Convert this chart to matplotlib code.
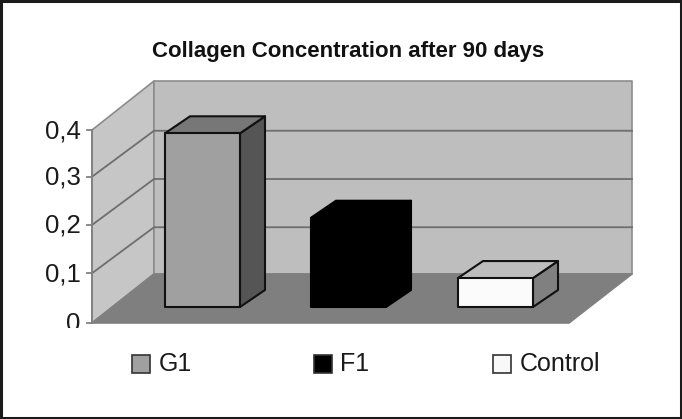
import matplotlib
matplotlib.use("Agg")
import matplotlib.pyplot as plt
from matplotlib.patches import Polygon, Rectangle

categories = ["G1", "F1", "Control"]
values = [0.36, 0.185, 0.06]
y_ticks = [0, 0.1, 0.2, 0.3, 0.4]
y_tick_labels = ["0", "0,1", "0,2", "0,3", "0,4"]
title = "Collagen Concentration after 90 days"

# colores de cada barra: frente, tapa, lado, borde
bar_colors = [
    ("#a0a0a0", "#777777", "#555555", "#111111"),
    ("#000000", "#000000", "#000000", "#000000"),
    ("#fbfbfb", "#bdbdbd", "#808080", "#111111"),
]
legend_colors = ["#a0a0a0", "#000000", "#f8f8f8"]

plt.rcParams["font.family"] = ["Liberation Sans", "DejaVu Sans"]

fig = plt.figure(figsize=(6.82, 4.19), dpi=100)
ax = fig.add_axes([0, 0, 1, 1])

# eje x en pixeles, eje y en unidades del dato (0 en y=323, 0.4 en y=130)
PX_PER_UNIT = 482.5
BASE_Y = 323


def vy(px):
    return (BASE_Y - px) / PX_PER_UNIT


ax.set_xlim(0, 682)
ax.set_ylim(vy(419), vy(0))
ax.axis("off")

# marco negro
ax.add_patch(Rectangle((1, vy(418)), 679.5, vy(1) - vy(418), fill=False, edgecolor="#1a1a1a", linewidth=2.2))

# paredes y suelo
left, right = 92, 569
back_dx, back_dy = 62, 49 / PX_PER_UNIT
top = y_ticks[-1]
edge = "#8c8c8c"


def shape(points, face, ec=edge, lw=1.2, z=1):
    ax.add_patch(Polygon(points, closed=True, facecolor=face, edgecolor=ec, linewidth=lw, joinstyle="round", zorder=z))


shape([(left, 0), (left + back_dx, back_dy), (left + back_dx, top + back_dy), (left, top)], "#c6c6c6")
shape([(left + back_dx, back_dy), (right + back_dx + 1, back_dy), (right + back_dx + 1, top + back_dy), (left + back_dx, top + back_dy)], "#bebebe")
shape([(left, 0), (right, 0), (right + back_dx + 1, back_dy), (left + back_dx, back_dy)], "#7f7f7f", ec="#808080")

# lineas de la rejilla
grid_lift = 1.5 / PX_PER_UNIT
grid_dy = 46 / PX_PER_UNIT
for t in y_ticks[1:-1]:
    g = t + grid_lift
    ax.plot([left, left + back_dx, right + back_dx + 1], [g, g + grid_dy, g + grid_dy], color="#6e6e6e", linewidth=1.3, zorder=2)
ax.plot([left, left], [0, top], color="#808080", linewidth=1.3, zorder=2)

# marcas y etiquetas del eje y
baseline_drop = 8 / PX_PER_UNIT
for t, lab in zip(y_ticks, y_tick_labels):
    g = t + grid_lift if t in y_ticks[1:-1] else t
    ax.plot([left - 5, left], [g, g], color="#808080", linewidth=1.3, zorder=2)
    txt = ax.text(80.5, g - baseline_drop, lab, ha="right", va="baseline", fontsize=18.5, color="#1a1a1a")
    if t == 0:
        # el "0" sale cortado por abajo en la figura original
        txt.set_clip_path(Rectangle((40, vy(328)), 50, 30 / PX_PER_UNIT, transform=ax.transData))
        txt.set_clip_on(True)

# barras
bar_left = [165, 311, 458]
bar_w = 75
bar_base = vy(307)
depth_dx, depth_dy = 25, 17 / PX_PER_UNIT
for i, v in enumerate(values):
    x0 = bar_left[i]
    x1 = x0 + bar_w
    y0 = bar_base
    y1 = bar_base + v
    front, cap, side, line = bar_colors[i]
    shape([(x1, y0), (x1 + depth_dx, y0 + depth_dy), (x1 + depth_dx, y1 + depth_dy), (x1, y1)], side, ec=line, lw=1.5, z=3)
    shape([(x0, y1), (x1, y1), (x1 + depth_dx, y1 + depth_dy), (x0 + depth_dx, y1 + depth_dy)], cap, ec=line, lw=1.5, z=3)
    shape([(x0, y0), (x1, y0), (x1, y1), (x0, y1)], front, ec=line, lw=1.5, z=4)

ax.text(348, vy(52), title, ha="center", va="center", fontsize=16, fontweight="bold", color="#111111")

# leyenda
legend_x = [132, 314, 493]
legend_y = vy(364)
for name, c, lx in zip(categories, legend_colors, legend_x):
    ax.add_patch(Rectangle((lx, legend_y - 9 / PX_PER_UNIT), 18, 18 / PX_PER_UNIT, facecolor=c, edgecolor="#333333", linewidth=1.2))
    ax.text(lx + 26.5, legend_y, name, ha="left", va="center", fontsize=18, color="#1a1a1a")

fig.savefig("out.png", dpi=100)
